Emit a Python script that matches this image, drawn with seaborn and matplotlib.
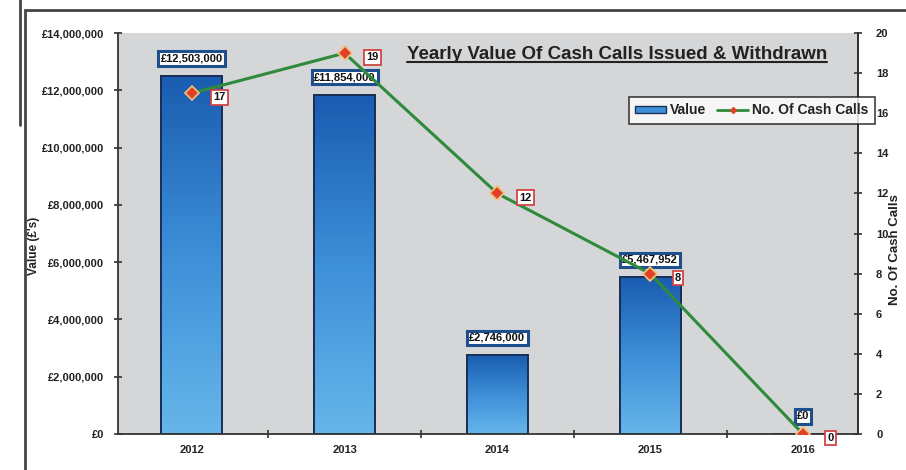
import numpy as np
import matplotlib
matplotlib.use("Agg")
import matplotlib.pyplot as plt
import seaborn as sns
from matplotlib.patches import Patch, Rectangle
from matplotlib.lines import Line2D
from matplotlib.ticker import FuncFormatter, MultipleLocator
from matplotlib.colors import LinearSegmentedColormap

years = ["2012", "2013", "2014", "2015", "2016"]
values = [12503000, 11854000, 2746000, 5467952, 0]
counts = [17, 19, 12, 8, 0]
title = "Yearly Value Of Cash Calls Issued & Withdrawn"

sns.set_theme(style="white")
plt.rcParams['font.family'] = ['Liberation Sans', 'DejaVu Sans']

fig = plt.figure(figsize=(9.06, 4.70), dpi=100)
ax = fig.add_axes([0.130, 0.0766, 0.817, 0.853])
ax.set_facecolor("#d4d6d8")

sns.barplot(x=years, y=values, ax=ax, width=0.4, color="#2a78c8",
            edgecolor="#1a2f55", linewidth=1.2, saturation=1)

# gradient fill inside each bar
grad = np.linspace(0, 1, 256).reshape(-1, 1)
cmap = LinearSegmentedColormap.from_list("b", ["#1a5cb0", "#3d8fd8", "#66b6ea"])
for p in list(ax.patches):
    x0, y0 = p.get_x(), p.get_y()
    w, h = p.get_width(), p.get_height()
    if h <= 0:
        continue
    im = ax.imshow(grad, extent=(x0, x0 + w, y0, y0 + h), aspect="auto",
                   cmap=cmap, origin="upper", zorder=p.get_zorder() + 0.1)
    im.set_clip_path(p)
    edge = Rectangle((x0, y0), w, h, fill=False, edgecolor="#1a2f55", lw=1.4,
                     zorder=p.get_zorder() + 0.2)
    ax.add_patch(edge)

ax.set_xlim(-0.484, 4.36)
ax.set_ylim(0, 14000000)
ax.yaxis.set_major_locator(MultipleLocator(2000000))
ax.yaxis.set_major_formatter(FuncFormatter(lambda v, _: f"£{v:,.0f}"))
ax.set_xticks(range(len(years)))
ax.set_xticklabels(years)
ax.set_xticks([i + 0.5 for i in range(len(years) - 1)], minor=True)
ax.tick_params(axis="x", which="major", length=0, pad=8, labelsize=8)
ax.tick_params(axis="x", which="minor", length=6, direction="inout", color="#333333", width=1.2, bottom=True)
ax.tick_params(axis="y", which="major", length=6, direction="inout", color="#333333", width=1.2, labelsize=8, pad=7, left=True)
for lab in ax.get_xticklabels() + ax.get_yticklabels():
    lab.set_fontweight("bold")
    lab.set_color("#222222")
ax.set_ylabel("Value (£'s)", fontsize=8.5, fontweight="bold", color="#222222")
ax.yaxis.set_label_coords(-0.1045, 0.47)
ax.set_xlabel("")
for s in ["left", "bottom", "right"]:
    ax.spines[s].set_color("#333333")
    ax.spines[s].set_linewidth(1.3)
ax.spines["top"].set_visible(False)

# value labels
for i, v in enumerate(values):
    ax.annotate(f"£{v:,.0f}", (i, v), xytext=(0, 9), textcoords="offset points",
                ha="center", va="bottom", fontsize=8, fontweight="bold", color="#111111",
                bbox=dict(boxstyle="square,pad=0.2", fc="white", ec="#1f4e8c", lw=2.2),
                zorder=6)

ax2 = ax.twinx()
green = "#2f8a3c"
sns.lineplot(x=np.arange(len(years)), y=counts, ax=ax2, color=green, lw=2.2,
             marker="D", markersize=7, markerfacecolor="#e0402a",
             markeredgecolor="#f3c27a", markeredgewidth=1.2, zorder=5)
ax2.set_ylim(0, 20)
ax2.set_xlim(-0.484, 4.36)
ax2.yaxis.set_major_locator(MultipleLocator(2))
ax2.tick_params(axis="y", which="major", length=6, direction="inout", color="#333333", width=1.2, labelsize=8, pad=10, right=True)
for lab in ax2.get_yticklabels():
    lab.set_fontweight("bold")
    lab.set_color("#222222")
ax2.set_ylabel("No. Of Cash Calls", fontsize=9.5, fontweight="bold", color="#222222")
ax2.yaxis.set_label_coords(1.042, 0.46)
for s in ["top", "left", "bottom"]:
    ax2.spines[s].set_visible(False)
ax2.spines["right"].set_color("#333333")
ax2.spines["right"].set_linewidth(1.3)

for i, c in enumerate(counts):
    ax2.annotate(f"{c}", (i, c), xytext=(20, -3), textcoords="offset points",
                 ha="center", va="center", fontsize=8, fontweight="bold", color="#111111",
                 bbox=dict(boxstyle="square,pad=0.2", fc="white", ec="#d04545", lw=1.3),
                 zorder=7)

# legend
handles = [Patch(facecolor="#3d8fd8", edgecolor="#1a2f55", lw=1.0),
           Line2D([], [], color=green, lw=2, marker="D", markersize=3,
                  markerfacecolor="#e0402a", markeredgecolor="#e0402a")]
leg = ax2.legend(handles, ["Value", "No. Of Cash Calls"], ncol=2, loc="center",
                 bbox_to_anchor=(0.830, 0.765), bbox_transform=fig.transFigure,
                 fancybox=False, frameon=True, fontsize=10, handlelength=2.2,
                 handleheight=0.45, columnspacing=0.8, handletextpad=0.3,
                 borderpad=0.45)
leg.get_frame().set_edgecolor("#111111")
leg.get_frame().set_linewidth(1.2)
leg.get_frame().set_facecolor("white")
for t in leg.get_texts():
    t.set_fontweight("bold")
    t.set_color("#222222")

# title with underline
tt = fig.text(0.681, 0.883, title, ha="center", va="center", fontsize=13.5,
              fontweight="bold", color="#222222", zorder=10)
fig.canvas.draw()
bb = tt.get_window_extent()
inv = fig.transFigure.inverted()
(x0f, y0f) = inv.transform((bb.x0, bb.y0 + 1))
(x1f, _) = inv.transform((bb.x1, bb.y0 + 1))
fig.add_artist(Line2D([x0f, x1f], [y0f, y0f], color="#222222", lw=1.5,
                      transform=fig.transFigure))

# outer frame lines (scan border)
fig.add_artist(Rectangle((0.0276, -0.01), 0.98, 0.989, fill=False,
                         edgecolor="#444444", lw=2.0, transform=fig.transFigure))
fig.add_artist(Line2D([0.022, 0.022], [0.734, 1.0], color="#444444", lw=2.0,
                      transform=fig.transFigure))

fig.savefig("out.png", dpi=100)
